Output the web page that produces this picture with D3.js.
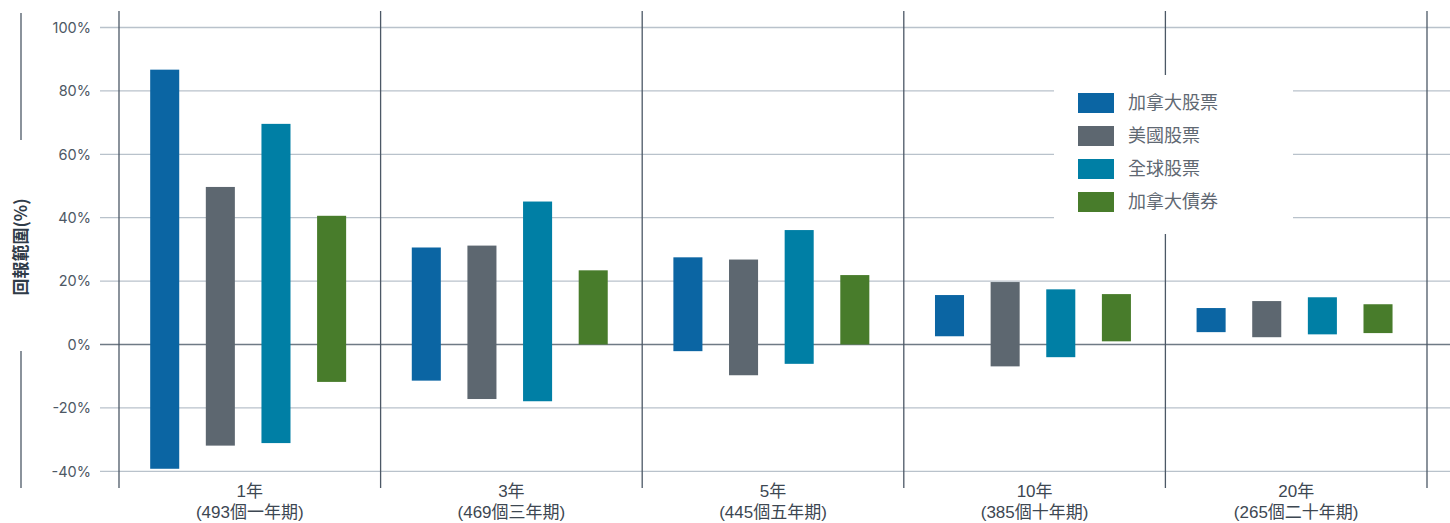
<!DOCTYPE html>
<html><head><meta charset="utf-8">
<script src="https://cdn.jsdelivr.net/npm/d3@7"></script>
<style>
body{margin:0;background:#fff;}
svg{display:block;font-family:"Noto Sans CJK TC","Noto Sans",sans-serif;}
</style></head>
<body><svg id="c" width="1450" height="523"></svg>
<script>
const periods = ["1年","3年","5年","10年","20年"];
const periodSub = ["(493個一年期)","(469個三年期)","(445個五年期)","(385個十年期)","(265個二十年期)"];
const series = ["加拿大股票","美國股票","全球股票","加拿大債券"];
const colors = ["#0b65a3","#5d6770","#007fa5","#487c2b"];
// [low, high] per period, in %
const caEquity = [[-39.2,86.7],[-11.4,30.6],[-2.1,27.5],[2.6,15.6],[3.9,11.5]];
const usEquity = [[-31.9,49.7],[-17.2,31.2],[-9.7,26.8],[-6.9,19.7],[2.3,13.7]];
const glEquity = [[-31.1,69.6],[-17.9,45.1],[-6.1,36.1],[-4.0,17.4],[3.2,14.9]];
const caBond   = [[-11.8,40.6],[0,23.4],[0,21.9],[1.0,15.9],[3.6,12.7]];
const yTicks = [-40,-20,0,20,40,60,80,100];

const seriesData = [caEquity, usEquity, glEquity, caBond];
const svg = d3.select("#c");

const y = d3.scaleLinear().domain([-40,100]).range([471.3,27.5]);
const x = d3.scaleBand().domain(periods).range([119,1427]).padding(0);
const xs = d3.scaleBand().domain(series).range([0,x.bandwidth()]).paddingInner(0.478).paddingOuter(0.59).align(0.475);

// grid
svg.append("g").selectAll("line").data(yTicks).join("line")
  .attr("x1",100).attr("x2",1450)
  .attr("y1",d=>y(d)).attr("y2",d=>y(d))
  .attr("stroke",d=>d===0?"#6f7a85":"#b9c2cb").attr("stroke-width",d=>d===0?1.6:1.3);

// tick labels
svg.append("g").selectAll("text").data(yTicks).join("text")
  .attr("x",91).attr("y",d=>y(d)).attr("dy","0.36em")
  .attr("text-anchor","end").attr("font-size",14.5).attr("fill","#4d5864")
  .attr("font-family","Inter, 'Noto Sans', sans-serif")
  .text(d=>d+"%");

// vertical separators
const seps = periods.map(p=>x(p)).concat([x.range()[1]]);
svg.append("g").selectAll("line").data(seps).join("line")
  .attr("x1",d=>d).attr("x2",d=>d).attr("y1",11).attr("y2",488)
  .attr("stroke","#4c5866").attr("stroke-width",1.3);

// bars
seriesData.forEach((arr,si)=>{
  svg.append("g").selectAll("rect").data(arr).join("rect")
    .attr("x",(d,i)=>x(periods[i])+xs(series[si]))
    .attr("width",xs.bandwidth())
    .attr("y",d=>y(d[1]))
    .attr("height",d=>y(d[0])-y(d[1]))
    .attr("fill",colors[si]);
});

// x labels (two lines in one text element)
const xt = svg.append("g").selectAll("text").data(periods).join("text")
  .attr("text-anchor","middle").attr("font-size",17).attr("fill","#3d4752")
  .attr("font-family","'Liberation Sans Narrow','Liberation Sans','Noto Sans CJK TC',sans-serif");
xt.append("tspan").attr("x",d=>x(d)+x.bandwidth()/2).attr("y",497).text(d=>d);
xt.append("tspan").attr("x",d=>x(d)+x.bandwidth()/2).attr("y",517.5).text((d,i)=>periodSub[i]);

// y title with side lines
svg.append("line").attr("x1",21).attr("x2",21).attr("y1",13).attr("y2",140).attr("stroke","#4c5866").attr("stroke-width",1.3);
svg.append("line").attr("x1",21).attr("x2",21).attr("y1",351).attr("y2",488).attr("stroke","#4c5866").attr("stroke-width",1.3);
svg.append("text").attr("transform","translate(21,247) rotate(-90)")
  .attr("text-anchor","middle").attr("dy","0.35em")
  .attr("font-size",17).attr("font-weight","bold").attr("fill","#2f3b48").text("回報範圍(%)");

// legend
const lg = svg.append("g");
lg.append("rect").attr("x",1054).attr("y",75).attr("width",239).attr("height",159).attr("fill","#fff");
const li = lg.selectAll("g").data(series).join("g").attr("transform",(d,i)=>`translate(1078,${93+i*33})`);
li.append("rect").attr("width",36).attr("height",20).attr("fill",(d,i)=>colors[i]);
li.append("text").attr("x",50).attr("y",10).attr("dy","0.36em").attr("font-size",18).attr("fill","#5f6872").text(d=>d);
</script></body></html>
